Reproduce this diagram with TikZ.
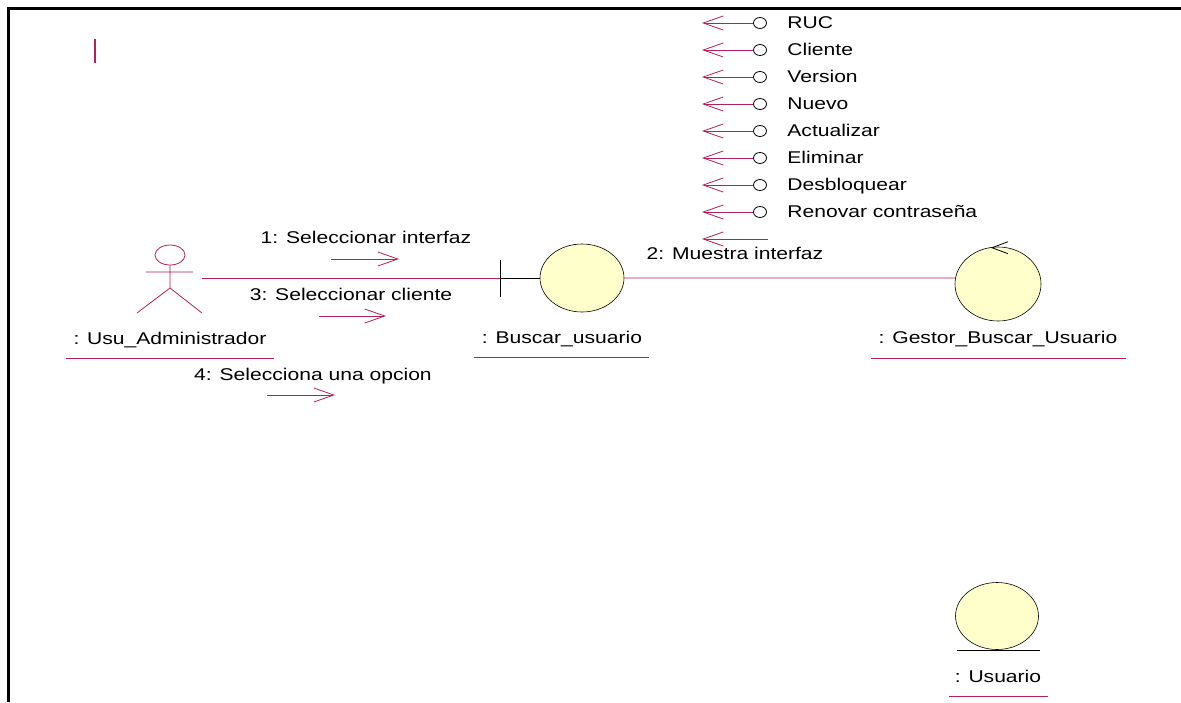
\documentclass[tikz,border=0pt]{standalone}
\usepackage{fontspec}
\setmainfont{Liberation Sans}[FakeStretch=1.24]
\usepackage{tikz}
\usetikzlibrary{arrows.meta}
\usetikzlibrary{shapes.geometric}
\usetikzlibrary{positioning}
\definecolor{roselink}{HTML}{B3205A}
\definecolor{objfill}{HTML}{FFFFCC}

\begin{document}
\begin{tikzpicture}[x=1pt,y=-1pt,line width=0.8pt,
    font=\fontsize{17}{20}\selectfont,
    >={Straight Barb[length=20pt,width=14pt]},
    link/.style={draw=roselink},
    uline/.style={draw=roselink,line width=0.7pt},
    obj/.style={ellipse,draw=black,line width=0.6pt,fill=objfill,inner sep=0pt},
    iface/.style={ellipse,draw=black,line width=0.8pt,fill=white,minimum width=13pt,minimum height=11pt,inner sep=0pt},
    lbl/.style={anchor=base,inner sep=0pt}]

      \useasboundingbox (0,0) rectangle (1181,702);
      \draw[line width=3pt] (1181,8.5) -- (8.5,8.5) -- (8.5,702);
      \draw[roselink,line width=1.2pt] (95,39) -- (95,63);

      % actor
      \draw[roselink] (170,255) ellipse [x radius=15,y radius=10];
      \draw[roselink] (170,265) -- (170,288) (146,272) -- (193,272) (137,313) -- (170,288) -- (202,313);
      \coordinate (usu_admin) at (202,278);
      \node[lbl] (usu_admin_lbl) at (170,344) {: Usu\_Administrador};
      \draw[uline] (66,358) -- (274,358);

      % boundary, control, entity
      \coordinate (buscar_bar) at (500,278);
      \draw (500,260) -- (500,297);
      \node[obj,minimum width=84pt,minimum height=68pt] (buscar_usuario) at (582,278) {};
      \node[lbl] (buscar_lbl) at (562,343) {: Buscar\_usuario};
      \draw[uline] (474,357) -- (649,357);

      \node[obj,minimum width=86pt,minimum height=74pt] (gestor) at (998,284) {};
      \draw ([shift={(10,-5)}]gestor.north) -- ([shift={(-6,1)}]gestor.north) -- ([shift={(10,7)}]gestor.north);
      \node[lbl] (gestor_lbl) at (998,343) {: Gestor\_Buscar\_Usuario};
      \draw[uline] (871,358) -- (1126,358);

      \node[obj,minimum width=83pt,minimum height=67pt] (usuario) at (997,616) {};
      \draw[line width=0.6pt] (957,650) -- (1040,650);
      \node[lbl] (usuario_lbl) at (998,682) {: Usuario};
      \draw[uline] (949,696) -- (1048,696);

      \path[link]
      (usu_admin) edge (buscar_bar)
      (buscar_usuario.east) edge (gestor.172);
      \draw (buscar_bar) -- (buscar_usuario.west);

      % messages
      \node[lbl] (msg1) at (366,243) {1: Seleccionar interfaz};
      \draw[link,->] ([shift={(-35,16)}]msg1.base) -- ++(68,0);
      \node[lbl] (msg2) at (735,259) {2: Muestra interfaz};
      \draw[link,->] ([shift={(33,-20)}]msg2.base) -- ++(-66,0);
      \node[lbl] (msg3) at (351,300) {3: Seleccionar cliente};
      \draw[link,->] ([shift={(-32,16)}]msg3.base) -- ++(67,0);
      \node[lbl] (msg4) at (313,380) {4: Selecciona una opcion};
      \draw[link,->] ([shift={(-46,15)}]msg4.base) -- ++(68,0);

      \foreach \op [count=\i from 0] in {RUC,Cliente,Version,Nuevo,Actualizar,Eliminar,Desbloquear,Renovar contraseña}{
        \pgfmathsetmacro\rowy{23+27*\i}
        \node[iface] (op\i) at (760,\rowy) {};
        \node[anchor=base west,inner sep=0pt] (op\i_lbl) at (787,\rowy+5) {\op};
        \draw[link,->] (op\i) -- (702,\rowy);
      }
    \end{tikzpicture}
\end{document}
